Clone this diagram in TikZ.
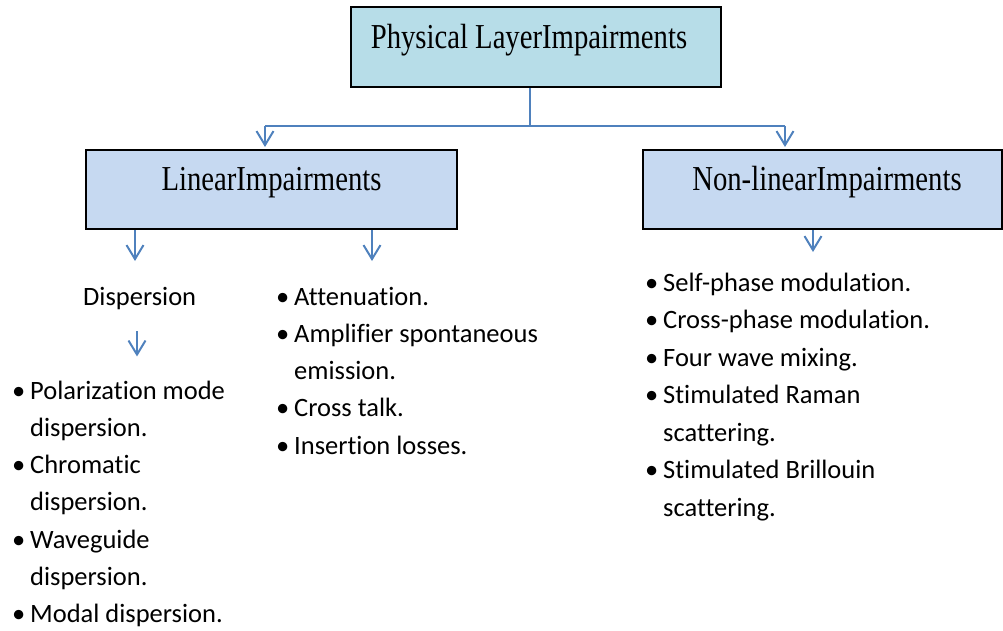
\documentclass[tikz,border=0pt]{standalone}
\usepackage{fontspec}
\usetikzlibrary{arrows.meta}
\newfontfamily\titlefont[FakeStretch=0.82]{Liberation Serif}
\newfontfamily\listfont[Ligatures={NoCommon,NoContextual}]{Carlito}
\definecolor{topfill}{HTML}{B7DDE8}
\definecolor{subfill}{HTML}{C6D9F1}
\definecolor{linkblue}{HTML}{4F81BD}
\newcommand{\itembullet}{\llap{\textbullet\kern5pt}}

\begin{document}
\begin{tikzpicture}[x=1pt,y=-1pt,
  box/.style={draw=black, line width=2pt, inner xsep=0pt, inner ysep=0pt,
    font=\titlefont\fontsize{35}{40}\selectfont},
  link/.style={draw=linkblue, line width=2pt},
  arr/.style={link, -{Straight Barb[length=14pt,width=17pt]}, shorten >=2pt},
  item/.style={anchor=base west, inner sep=0pt,
    font=\listfont\fontsize{26.5}{32}\selectfont},
]
\useasboundingbox (0,0) rectangle (1003,631);

% title boxes
\node[box, fill=topfill, minimum width=370pt, text height=42pt, text depth=38pt]
  (top) at (536,47) {\kern-14pt Physical LayerImpairments};
\node[box, fill=subfill, minimum width=371pt, text height=40pt, text depth=39pt]
  (lin) at (271.5,189.5) {LinearImpairments};
\node[box, fill=subfill, minimum width=359pt, text height=40pt, text depth=39pt]
  (nonlin) at (822.5,189.5) {\kern9pt Non-linearImpairments};

% branching connectors
\coordinate (hub) at (530,126);
\coordinate (jl) at (265,126);
\coordinate (jr) at (785,126);
\draw[link] (top.south -| hub) -- (hub);
\draw[link] (jl) -- (jr);
\draw[arr] (jl) -- (jl |- lin.north);
\draw[arr] (jr) -- (jr |- nonlin.north);

% dispersion branch
\node[item] (disp) at (83,305) {Dispersion};
\node[item] (l1a) at (30,399)   {\itembullet Polarization mode};
\node[item] (l1b) at (30,436.3) {dispersion.};
\node[item] (l2a) at (30,473.6) {\itembullet Chromatic};
\node[item] (l2b) at (30,510.9) {dispersion.};
\node[item] (l3a) at (30,548.2) {\itembullet Waveguide};
\node[item] (l3b) at (30,585.5) {dispersion.};
\node[item] (l4a) at (30,622.8) {\itembullet Modal dispersion.};

% other linear impairments
\node[item] (m1a) at (294,305)   {\itembullet Attenuation.};
\node[item] (m2a) at (294,342.3) {\itembullet Amplifier spontaneous};
\node[item] (m2b) at (294,379.6) {emission.};
\node[item] (m3a) at (294,416.9) {\itembullet Cross talk.};
\node[item] (m4a) at (294,454.2) {\itembullet Insertion losses.};

% non-linear impairments
\node[item] (r1a) at (663,291)   {\itembullet Self-phase modulation.};
\node[item] (r2a) at (663,328.5) {\itembullet Cross-phase modulation.};
\node[item] (r3a) at (663,366)   {\itembullet Four wave mixing.};
\node[item] (r4a) at (663,403.5) {\itembullet Stimulated Raman};
\node[item] (r4b) at (663,441)   {scattering.};
\node[item] (r5a) at (663,478.5) {\itembullet Stimulated Brillouin};
\node[item] (r5b) at (663,516)   {scattering.};

% downward arrows
\coordinate (xa) at (135,0);
\coordinate (xb) at (372,0);
\coordinate (xc) at (813,0);
\coordinate (xd) at (137,0);
\draw[arr] (lin.south -| xa) -- ++(0,33);
\draw[arr] (lin.south -| xb) -- ++(0,33);
\draw[arr] (nonlin.south -| xc) -- ++(0,24);
\draw[arr] (disp.south -| xd) ++(0,22) -- ++(0,27);
\end{tikzpicture}
\end{document}
